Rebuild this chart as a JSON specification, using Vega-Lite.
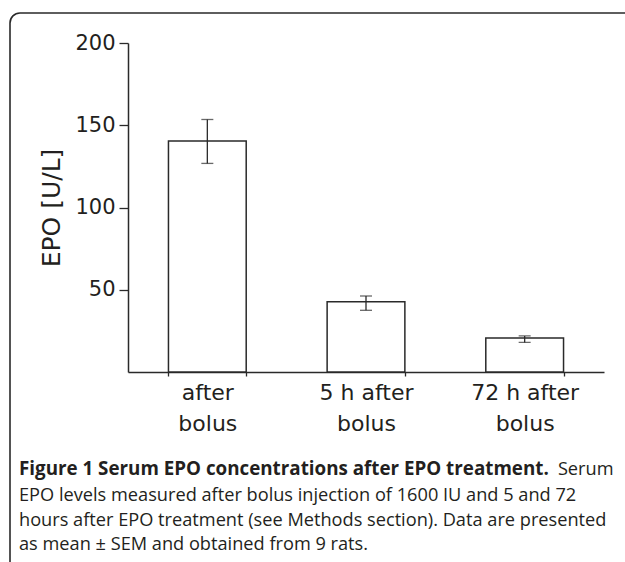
{
  "$schema": "https://vega.github.io/schema/vega-lite/v6.json",
  "autosize": "none",
  "padding": {"left": 10, "top": 13, "right": 0, "bottom": 0},
  "width": 640,
  "height": 580,
  "background": "white",
  "view": {"stroke": "#2a2a2a", "strokeWidth": 1.6, "cornerRadius": 10, "fill": "white"},
  "title": {
    "text": "Figure 1 Serum EPO concentrations after EPO treatment.",
    "subtitle": [
      "EPO levels measured after bolus injection of 1600 IU and 5 and 72",
      "hours after EPO treatment (see Methods section). Data are presented",
      "as mean \u00b1 SEM and obtained from 9 rats."
    ],
    "orient": "bottom",
    "anchor": "start",
    "frame": "group",
    "offset": -133,
    "dx": 9,
    "font": "Open Sans",
    "fontSize": 18.8,
    "fontWeight": "bold",
    "color": "#231f20",
    "subtitleFont": "Open Sans",
    "subtitleFontSize": 18.2,
    "subtitleFontWeight": "normal",
    "subtitleColor": "#231f20",
    "subtitleLineHeight": 24.5,
    "subtitlePadding": 8.5
  },
  "data": {
    "values": [
      {"group": "after bolus", "mean": 140.5, "lo": 126.8, "hi": 153.5},
      {"group": "5 h after bolus", "mean": 42.7, "lo": 37.5, "hi": 46.2},
      {"group": "72 h after bolus", "mean": 20.7, "lo": 18.0, "hi": 21.9}
    ]
  },
  "encoding": {
    "x": {
      "field": "group",
      "type": "nominal",
      "sort": null,
      "scale": {"range": [118, 594], "paddingInner": 0.51, "paddingOuter": 0.255},
      "axis": {
        "orient": "bottom",
        "offset": -221,
        "tickBand": "extent",
        "tickSize": 4,
        "tickColor": "#2a2a2a",
        "tickWidth": 1.3,
        "domainColor": "#2a2a2a",
        "domainWidth": 1.5,
        "labelAngle": 0,
        "labelExpr": "datum.label ? [replace(datum.label, ' bolus', ''), 'bolus'] : ''",
        "labelFont": "DejaVu Sans",
        "labelFontSize": 22,
        "labelColor": "#231f20",
        "labelLineHeight": 31,
        "labelPadding": 6,
        "title": "Serum",
        "titleFont": "Open Sans",
        "titleFontSize": 18.2,
        "titleFontWeight": "normal",
        "titleColor": "#231f20",
        "titleAnchor": "end",
        "titleAlign": "right",
        "titleBaseline": "alphabetic",
        "titleX": 603,
        "titleY": 102
      }
    }
  },
  "layer": [
    {
      "mark": {"type": "bar", "fill": "white", "stroke": "#2a2a2a", "strokeWidth": 1.5},
      "encoding": {
        "y": {
          "field": "mean",
          "type": "quantitative",
          "scale": {"domain": [0, 200], "range": [359, 30], "nice": false, "zero": true},
          "axis": {
            "orient": "left",
            "offset": -118,
            "values": [50, 100, 150, 200],
            "grid": false,
            "tickSize": 9,
            "tickColor": "#2a2a2a",
            "tickWidth": 1.3,
            "domainColor": "#2a2a2a",
            "domainWidth": 1.5,
            "labelFont": "DejaVu Sans",
            "labelFontSize": 21,
            "labelColor": "#231f20",
            "labelPadding": 4,
            "title": "EPO [U/L]",
            "titleFont": "DejaVu Sans",
            "titleFontSize": 25,
            "titleFontWeight": "normal",
            "titleColor": "#231f20",
            "titlePadding": 10
          }
        }
      }
    },
    {
      "mark": {"type": "rule", "stroke": "#2a2a2a", "strokeWidth": 1.3},
      "encoding": {
        "y": {"field": "lo", "type": "quantitative"},
        "y2": {"field": "hi"}
      }
    },
    {
      "mark": {"type": "tick", "color": "#2a2a2a", "size": 12, "thickness": 1.3},
      "encoding": {"y": {"field": "lo", "type": "quantitative"}}
    },
    {
      "mark": {"type": "tick", "color": "#2a2a2a", "size": 12, "thickness": 1.3},
      "encoding": {"y": {"field": "hi", "type": "quantitative"}}
    }
  ]
}
